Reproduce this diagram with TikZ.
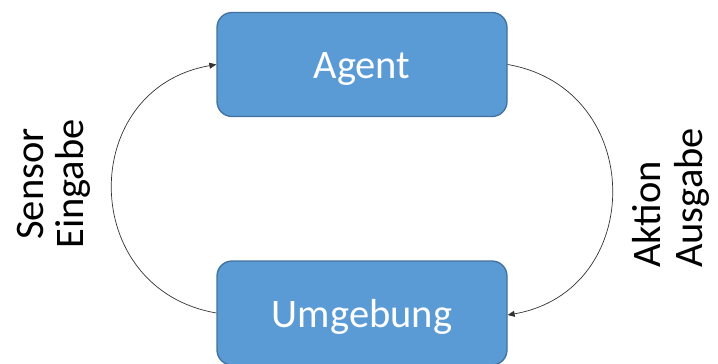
\documentclass[tikz,border=0pt]{standalone}
\usepackage{fontspec}
\setmainfont{Carlito}
\usetikzlibrary{arrows.meta}
\definecolor{boxfill}{HTML}{5B9BD5}
\definecolor{boxline}{HTML}{41719C}
\begin{document}
\begin{tikzpicture}[x=1pt,y=-1pt,
  block/.style={draw=boxline, line width=1.3pt, fill=boxfill, rounded corners=15pt,
    minimum width=290pt, minimum height=104pt, inner sep=0pt, text=white,
    font=\fontsize{40.5}{48}\selectfont, text height=28pt, text depth=0pt},
  flow/.style={draw=black!80, line width=0.7pt, -{Triangle[length=7pt,width=6pt]}},
  side/.style={rotate=90, inner sep=0pt, font=\fontsize{40.5}{48}\selectfont}]
\useasboundingbox (0,0) rectangle (718,364);

% the two blocks
\node[block] (agent) at (362,64.5) {Agent};
\node[block] (umg) at (362,313) {Umgebung};

% feedback loop
\draw[flow] (umg.west) .. controls +(-139,-24) and +(-139,24) .. (agent.west);
\draw[flow] (agent.east) .. controls +(139,24) and +(139,-24) .. ([yshift=-2pt]umg.east);

% side labels
\node[side, anchor=base] (sensor) at (43,184) {Sensor};
\node[side, anchor=base] (eingabe) at (83,184) {Eingabe};
\node[side, anchor=base west] (aktion) at (660,268) {Aktion};
\node[side, anchor=base west] (ausgabe) at (702,268) {Ausgabe};
\end{tikzpicture}
\end{document}
